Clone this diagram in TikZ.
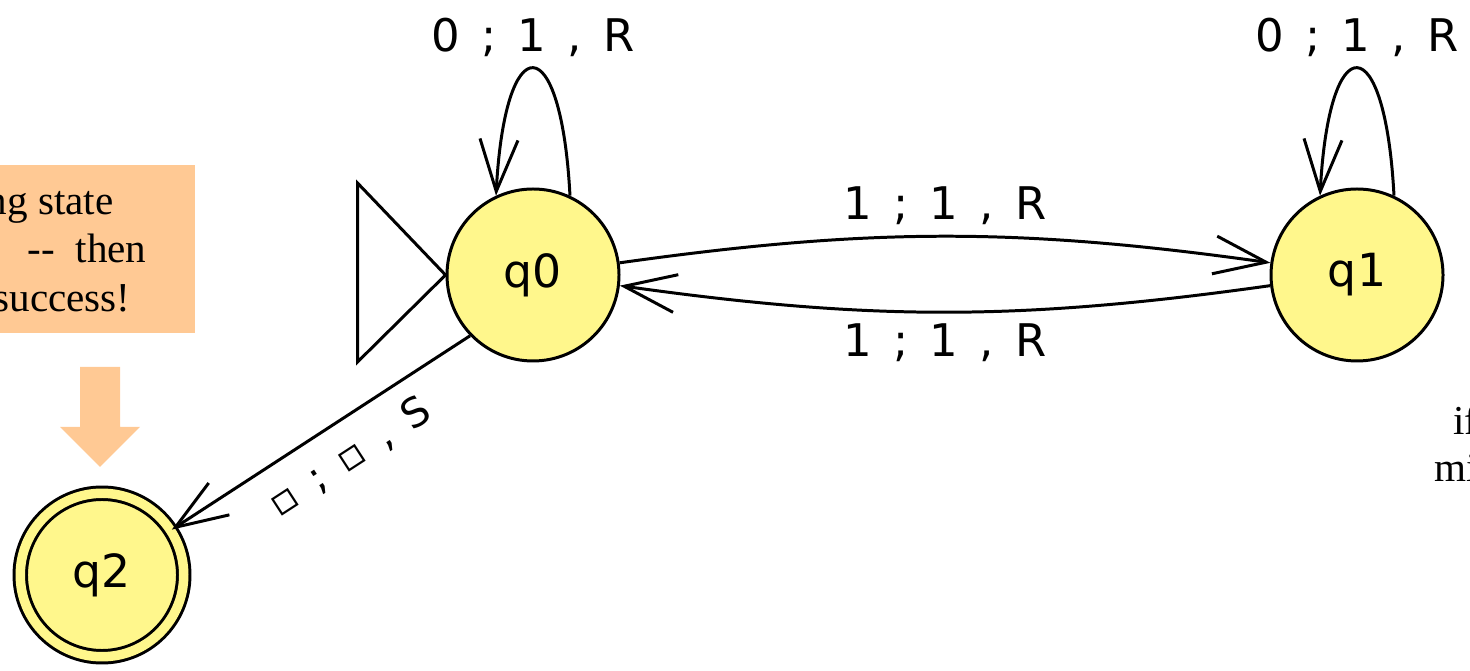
\documentclass[tikz,border=0pt]{standalone}
\usepackage{fontspec}
\setmainfont{Liberation Serif}
\newfontfamily\jflapfont[WordSpace=1.5]{DejaVu Sans}
\usetikzlibrary{arrows.meta}
\definecolor{stateyellow}{RGB}{255,247,140}
\definecolor{noteorange}{RGB}{255,201,148}

\begin{document}
\begin{tikzpicture}[line width=0.85pt,
    state/.style={circle, draw, fill=stateyellow, minimum size=1.72cm, inner sep=0pt, font=\jflapfont\fontsize{13}{15}\selectfont},
    accepting/.style={double=stateyellow, double distance=2.7pt, minimum size=1.635cm},
    trans/.style={font=\jflapfont\fontsize{12.8}{14}\selectfont, inner sep=3pt},
    note/.style={font=\fontsize{11.7}{14}\selectfont, inner sep=0pt},
    >={Straight Barb[length=5.2mm,width=3.8mm]}]
  \useasboundingbox (0,0) rectangle (14.7,6.7);
  \clip (0,0) rectangle (14.7,6.7);

  \fill[noteorange] (-0.5,3.37) rectangle (1.95,5.05);
  \node[note, anchor=base east] (n1) at (1.15,4.55) {ng state};
  \node[note, anchor=base east] (n2) at (1.48,4.07) {-{}-\ \ then};
  \node[note, anchor=base east] (n3) at (1.32,3.58) {success!};
  \fill[noteorange] (0.80,3.03) -- (1.20,3.03) -- (1.20,2.43) -- (1.40,2.43)
    -- (1.00,2.03) -- (0.60,2.43) -- (0.80,2.43) -- cycle;

  \node[note, anchor=base west] (r1) at (14.52,2.35) {if};
  \node[note, anchor=base west] (r2) at (14.33,1.88) {mi};

  \node[state] (q0) at (5.33,3.95) {q0};
  \node[state] (q1) at (13.57,3.95) {q1};
  \node[state, accepting] (q2) at (1.02,0.95) {q2};

  \draw[fill=white] (q0.west) -- ++(-0.88,0.92) -- ++(0,-1.79) -- cycle;

  \foreach \s in {q0,q1}{
    \draw[->] (\s.65) .. controls +(93:1.7) and +(87:1.7) .. node[trans, above] (loop\s) {0 ; 1 , R} (\s.115);
  }
  \draw[->] (q0.8) to[bend left=8] node[trans, above] (e01) {1 ; 1 , R} (q1.172);
  \draw[->] (q1.187) to[bend left=8] node[trans, below] (e10) {1 ; 1 , R} (q0.-7);
  \draw[->] (q0.224) -- node[trans, sloped, below=2pt, pos=0.47, font=\jflapfont\fontsize{11.5}{13}\selectfont] (e02) {▫ ; ▫ , S} (q2);
\end{tikzpicture}
\end{document}
